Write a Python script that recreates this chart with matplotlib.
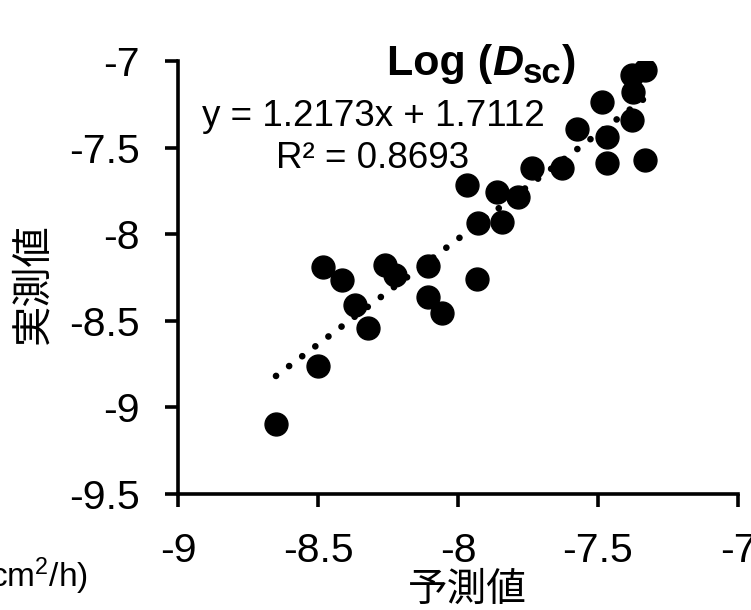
import numpy as np
import matplotlib
matplotlib.use('Agg')
import matplotlib.pyplot as plt

predicted = [-7.332, -7.380, -7.374, -7.487, -7.380, -7.576, -7.469, -7.469,
             -7.332, -7.737, -7.630, -7.969, -7.862, -7.785, -7.927, -7.844,
             -8.481, -8.415, -8.261, -8.225, -8.106, -8.368, -8.320, -8.106,
             -8.058, -7.931, -8.501, -8.650]
measured = [-7.052, -7.081, -7.177, -7.235, -7.341, -7.394, -7.437, -7.591,
            -7.572, -7.620, -7.620, -7.716, -7.754, -7.783, -7.937, -7.928,
            -8.188, -8.264, -8.178, -8.236, -8.184, -8.409, -8.543, -8.361,
            -8.457, -8.259, -8.761, -9.096]

# Trendline as printed on the chart
slope = 1.2173
intercept = 1.7112
r2 = 0.8693

x_ticks = [-9, -8.5, -8, -7.5, -7]
y_ticks = [-9.5, -9, -8.5, -8, -7.5, -7]

plt.rcParams['font.family'] = ['Liberation Sans', 'DejaVu Sans']
plt.rcParams['axes.unicode_minus'] = False
plt.rcParams['mathtext.fontset'] = 'custom'
plt.rcParams['mathtext.rm'] = 'Liberation Sans'
plt.rcParams['mathtext.it'] = 'Liberation Sans:italic'

W, H = 751, 610
fig = plt.figure(figsize=(W / 100, H / 100), dpi=100)
ax = fig.add_axes([178 / W, 1 - 494 / H, (738 - 178) / W, (494 - 61) / H])

ax.plot(predicted, measured, 'o', color='black', ms=16.5, zorder=3)

xs = np.array([min(predicted), max(predicted)])
ax.plot(xs, slope * xs + intercept, color='black', lw=4.8,
        linestyle=(0, (0.01, 2.45)), dash_capstyle='round', zorder=2)

ax.set_xlim(-9, -7)
ax.set_ylim(-9.5, -7)
ax.set_xticks(x_ticks)
ax.set_yticks(y_ticks)
ax.set_xticklabels(['%g' % v for v in x_ticks])
ax.set_yticklabels(['%g' % v for v in y_ticks])
for s in ['top', 'right']:
    ax.spines[s].set_visible(False)
for s in ['left', 'bottom']:
    ax.spines[s].set_linewidth(2.6)
ax.tick_params(direction='out', length=9.4, width=2.6, labelsize=29.5, pad=18)

ax.text(-8.304, -7.375, 'y = %.4fx + %.4f' % (slope, intercept),
        ha='center', va='baseline', fontsize=26.5)
ax.text(-8.304, -7.618, 'R² = %.4f' % r2,
        ha='center', va='baseline', fontsize=26.5)

# title "Log (D_sc)" built from pieces so the subscript can be sized freely
ty = -7.081
t1 = ax.text(-8.254, ty, 'Log (', ha='left', va='baseline', fontsize=31,
             fontweight='bold')
t2 = ax.annotate('D', xy=(1, ty), xycoords=(t1, 'data'), ha='left',
                 va='baseline', fontsize=31, fontweight='bold', style='italic')
t3 = ax.annotate('sc', xy=(1, ty), xycoords=(t2, 'data'), xytext=(0, -6),
                 textcoords='offset points', ha='left', va='baseline',
                 fontsize=25, fontweight='bold')
ax.annotate(')', xy=(1, ty), xycoords=(t3, 'data'), ha='left', va='baseline',
            fontsize=31, fontweight='bold')

cjk = ['Noto Sans CJK JP', 'DejaVu Sans']
fig.text(33 / W, 1 - 284 / H, '実測値', rotation=90, ha='center', va='center',
         fontsize=29, family=cjk)
fig.text(467 / W, 1 - 590 / H, '予測値', ha='center', va='center',
         fontsize=28.5, family=cjk)
fig.text(88 / W, 1 - 587 / H, r'(cm$^{\mathregular{2}}$/h)', ha='right',
         va='baseline', fontsize=24)

fig.savefig('out.png', dpi=100)
